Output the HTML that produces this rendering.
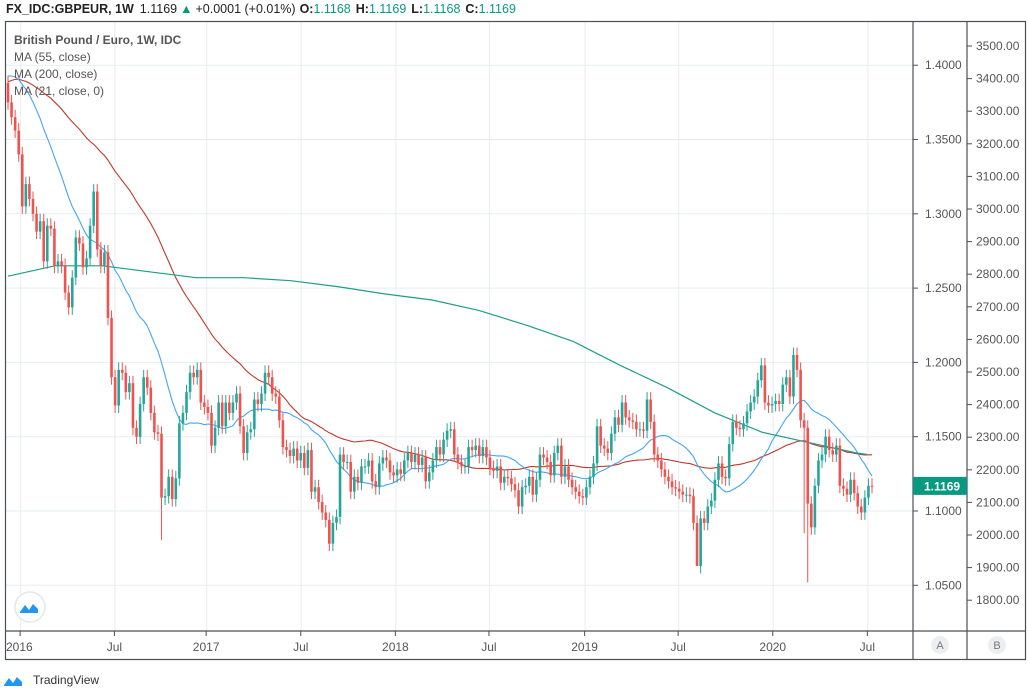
<!DOCTYPE html>
<html><head><meta charset="utf-8"><style>
body{margin:0;background:#fff;width:1028px;height:691px;overflow:hidden;font-family:"Liberation Sans",sans-serif}
svg{display:block}
</style></head><body>
<svg id="c" width="1028" height="691" xmlns="http://www.w3.org/2000/svg">
<g id="grid"></g>
<g id="ma"></g>
<g id="candles"></g>
<g id="axes"></g>
<text x="6" y="13" font-size="12.5" fill="#222"><tspan font-weight="bold">FX_IDC:GBPEUR, 1W</tspan><tspan dx="6">1.1169</tspan><tspan fill="#089981" dx="3">▲</tspan><tspan dx="3">+0.0001 (+0.01%)</tspan><tspan dx="4" font-weight="bold">O:</tspan><tspan fill="#089981">1.1168</tspan><tspan dx="5" font-weight="bold">H:</tspan><tspan fill="#089981">1.1169</tspan><tspan dx="5" font-weight="bold">L:</tspan><tspan fill="#089981">1.1168</tspan><tspan dx="5" font-weight="bold">C:</tspan><tspan fill="#089981">1.1169</tspan></text>
<g font-size="12" fill="#555">
<text x="14" y="44" font-weight="bold">British Pound / Euro, 1W, IDC</text>
<text x="14" y="61">MA (55, close)</text>
<text x="14" y="78">MA (200, close)</text>
<text x="14" y="95">MA (21, close, 0)</text>
</g>
<g><circle cx="30" cy="607" r="15" fill="#fff" stroke="#e3e6ea" stroke-width="1.5"/><path d="M20 612 l5-7 4 5 4-6 5 5 v4 h-18z" fill="#2196f3"/></g>
<g><path d="M4 685 l5-7 4 5 4-6 5 5 v4 h-18z" fill="#2196f3"/><text x="33" y="684" font-size="12" fill="#333">TradingView</text></g>
<g><circle cx="940" cy="645" r="9" fill="#eceff2"/><text x="940" y="649" font-size="11" fill="#777" text-anchor="middle">A</text></g>
<g><circle cx="997" cy="645" r="9" fill="#eceff2"/><text x="997" y="649" font-size="11" fill="#777" text-anchor="middle">B</text></g>
</svg>
<script>
const closes=[1.375,1.365,1.356,1.340,1.305,1.320,1.310,1.300,1.288,1.295,1.268,1.292,1.290,1.265,1.268,1.265,1.247,1.237,1.257,1.284,1.280,1.264,1.270,1.292,1.315,1.276,1.265,1.274,1.230,1.190,1.171,1.195,1.193,1.180,1.186,1.156,1.150,1.172,1.190,1.183,1.166,1.153,1.152,1.109,1.110,1.123,1.108,1.122,1.159,1.166,1.180,1.193,1.190,1.195,1.173,1.170,1.166,1.144,1.156,1.173,1.157,1.173,1.166,
1.173,1.179,1.157,1.139,1.153,1.155,1.175,1.172,1.179,1.193,1.190,1.179,1.177,1.161,1.143,1.141,1.137,1.142,1.134,1.139,1.129,1.141,1.113,1.116,1.106,1.099,1.094,1.078,1.092,1.096,1.138,1.133,1.133,1.113,1.123,1.119,1.130,1.130,1.134,1.120,1.116,1.132,1.136,1.134,1.126,1.124,1.128,1.125,1.134,1.139,1.133,1.138,1.131,1.136,1.120,1.126,1.134,1.143,1.138,1.148,1.154,
1.155,1.138,1.133,1.130,1.130,1.143,1.141,1.144,1.137,1.143,1.136,1.129,1.127,1.130,1.119,1.123,1.122,1.118,1.114,1.103,1.116,1.117,1.123,1.111,1.121,1.138,1.136,1.133,1.124,1.139,1.144,1.123,1.130,1.121,1.116,1.113,1.110,1.109,1.116,1.123,1.132,1.157,1.144,1.142,1.139,1.152,1.163,1.158,1.173,1.163,1.161,1.160,1.155,1.155,1.154,1.175,1.160,1.138,1.134,1.128,1.123,1.120,
1.116,1.115,1.113,1.111,1.111,1.110,1.092,1.063,1.095,1.092,1.103,1.107,1.121,1.132,1.123,1.122,1.145,1.160,1.156,1.155,1.159,1.167,1.173,1.177,1.188,1.198,1.173,1.171,1.172,1.174,1.172,1.185,1.190,1.177,1.205,1.195,1.161,1.156,1.105,1.089,1.117,1.134,1.138,1.150,1.141,1.138,1.144,1.117,1.115,1.111,1.121,1.112,1.103,1.099,1.109,1.117,1.1169];
const history=[1.300,1.310,1.320,1.330,1.350,1.360,1.370,1.380,1.385,1.375,1.380,1.390,1.385,1.395,1.400,1.405,1.410,1.400,1.405,1.415,1.420,1.425,1.430,1.425,1.420,1.415,1.410,1.405,1.400,1.395,1.380,1.370,1.360,1.355,1.360,1.365,1.370,1.375,1.380,1.385,1.390,1.400,1.405,1.410,1.415,1.420,1.415,1.410,1.405,1.400,1.395,1.390,1.385,1.380,1.378];
const ma200Weeks=[0,13.1,26.5,39.6,52.7,66.1,79.2,92.3,105.7,118.8,131.9,145.3,158.4,171.5,184.7,198,211.2,224.3,237.7,240.7];
const ma200Vals=[1.258,1.265,1.265,1.261,1.257,1.257,1.255,1.251,1.246,1.242,1.235,1.225,1.214,1.198,1.183,1.166,1.153,1.146,1.139,1.138];
const lowOverrides={43:1.0805,90:1.073,193:1.063,223:1.085,224:1.052};
const priceTicks=[1.40,1.35,1.30,1.25,1.20,1.15,1.10,1.05];
const rightTicks=[3500,3400,3300,3200,3100,3000,2900,2800,2700,2600,2500,2400,2300,2200,2100,2000,1900,1800];
const timeLabels=["2016","Jul","2017","Jul","2018","Jul","2019","Jul","2020","Jul"];
const timeWeeks=[3.4,29.8,55.5,82,108.5,134.7,161.5,187.7,214.2,240.7];

const NS="http://www.w3.org/2000/svg";
const gG=document.getElementById('grid'),gM=document.getElementById('ma'),gC=document.getElementById('candles'),gA=document.getElementById('axes');
const L=6,R=913,T=22,B=631;
const n=closes.length;
const step=(872-8)/(n-1);
const xS=i=>8+i*step;
const yS=p=>511-(p-1.1)*1486;
const y2=v=>46+(3500-v)*0.326;
function mk(tag,attrs,parent){const e=document.createElementNS(NS,tag);for(const k in attrs)e.setAttribute(k,attrs[k]);parent.appendChild(e);return e;}

priceTicks.forEach(p=>{const l=mk('line',{x1:L,x2:R,y1:yS(p),y2:yS(p),stroke:'#e6edf2','stroke-width':1},gG);

});
timeWeeks.forEach(w=>{const l=mk('line',{x1:xS(w)+0.5,x2:xS(w)+0.5,y1:T,y2:B,stroke:'#e6edf2','stroke-width':1},gG);

});

for(let i=0;i<n;i++){
 const c=closes[i],o=i>0?closes[i-1]:1.388;
 const up=c>=o,col=up?'#26a69a':'#ef5350';
 const hi=Math.max(o,c)+0.005,lo=lowOverrides[i]!==undefined?lowOverrides[i]:Math.min(o,c)-0.005;
 const g=mk('g',{},gC);
 
 
 const x=xS(i);
 mk('line',{x1:x,x2:x,y1:yS(hi),y2:yS(lo),stroke:col,'stroke-width':1},g);
 const yt=yS(Math.max(o,c)),yb=yS(Math.min(o,c));
 mk('rect',{x:x-1.3,y:yt,width:2.6,height:Math.max(1,yb-yt),fill:col},g);
}

const all=history.concat(closes);
function maPath(p){let d='';for(let i=0;i<n;i++){const k=history.length+i;const s=all.slice(Math.max(0,k-p+1),k+1);const v=s.reduce((a,b)=>a+b,0)/s.length;d+=(i?'L':'M')+xS(i).toFixed(1)+' '+yS(v).toFixed(1);}return d;}
const m55=mk('path',{d:maPath(55),fill:'none',stroke:'#c0392b','stroke-width':1.1},gM);


const m21=mk('path',{d:maPath(21),fill:'none',stroke:'#42a5f5','stroke-width':1.1},gM);


let d200='';ma200Weeks.forEach((w,i)=>{d200+=(i?'L':'M')+xS(w).toFixed(1)+' '+yS(ma200Vals[i]).toFixed(1);});
const m200=mk('path',{d:d200,fill:'none',stroke:'#1e9e86','stroke-width':1.2},gM);



mk('rect',{x:L-0.5,y:T-0.5,width:1026-L,height:660-T,fill:'none',stroke:'#4a4f57','stroke-width':1.2},gA);
mk('line',{x1:L,x2:1026,y1:B,y2:B,stroke:'#4a4f57','stroke-width':1.2},gA);
mk('line',{x1:R,x2:R,y1:T,y2:660,stroke:'#4a4f57','stroke-width':1.2},gA);
mk('line',{x1:967,x2:967,y1:T,y2:660,stroke:'#4a4f57','stroke-width':1.2},gA);
priceTicks.forEach(p=>{mk('line',{x1:R,x2:R+5,y1:yS(p),y2:yS(p),stroke:'#4a4f57'},gA);
const t=mk('text',{x:925,y:yS(p)+4,'font-size':12,fill:'#555'},gA);t.textContent=p.toFixed(4);

});
rightTicks.forEach(v=>{mk('line',{x1:967,x2:972,y1:y2(v),y2:y2(v),stroke:'#4a4f57'},gA);
const t=mk('text',{x:976,y:y2(v)+4,'font-size':12,fill:'#555'},gA);t.textContent=v.toFixed(2);

});
timeWeeks.forEach((w,i)=>{const x=xS(w);mk('line',{x1:x,x2:x,y1:B,y2:B+5,stroke:'#4a4f57'},gA);
const t=mk('text',{x:i==0?6:x,y:651,'font-size':12,fill:'#555','text-anchor':i==0?'start':'middle'},gA);t.textContent=timeLabels[i];

});
const lp=closes[n-1];
const lg=mk('g',{},gA);


mk('rect',{x:R,y:yS(lp)-9,width:54,height:18,fill:'#089981'},lg);
const lt=mk('text',{x:924,y:yS(lp)+4.5,'font-size':12,'font-weight':'bold',fill:'#fff'},lg);lt.textContent=lp.toFixed(4);
</script>
</body></html>
